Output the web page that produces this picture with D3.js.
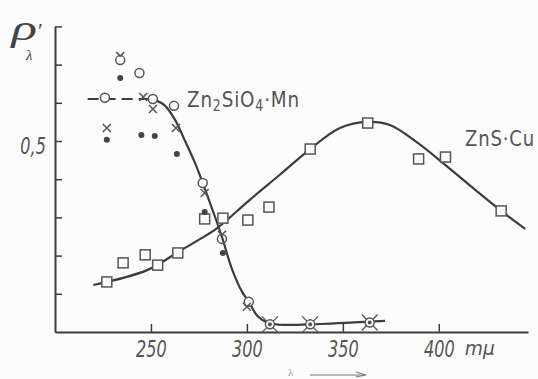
<!DOCTYPE html>
<html>
<head>
<meta charset="utf-8">
<script src="https://cdn.jsdelivr.net/npm/d3@7"></script>
<style>
  body { margin: 0; background: #fcfcfc; }
  svg { display: block; }
  .tick text { font-family: "DejaVu Sans", sans-serif; font-style: italic; fill: #555; }
</style>
</head>
<body>
<script>
"use strict";

// wavelength (mμ) and reflectance readings
var circleLam = [226, 244, 251, 262, 277, 301];
var circleVal = [0.613, 0.678, 0.61, 0.592, 0.39, 0.079];

var crossLam = [227, 246, 251, 263, 278, 300];
var crossVal = [0.534, 0.615, 0.584, 0.534, 0.364, 0.066];

var dotLam = [227, 234, 245, 252, 263.5, 278, 287.5];
var dotVal = [0.503, 0.665, 0.516, 0.513, 0.466, 0.314, 0.207];

// circle with a cross sitting on top of it
var capLam = [234, 287];
var capVal = [0.717, 0.249];

// circle with a cross through it
var starLam = [312, 333, 364];
var starVal = [0.02, 0.02, 0.025];

var squareLam = [227, 235.5, 247, 253.5, 264, 278, 287.5, 300.5, 311.5, 333, 363, 389.5, 403.5, 432.5];
var squareVal = [0.131, 0.181, 0.202, 0.175, 0.207, 0.296, 0.298, 0.293, 0.327, 0.479, 0.547, 0.453, 0.458, 0.317];

// fitted curves
var silDashLam = [217, 252];
var silDashVal = [0.61, 0.61];
var silLam = [252, 257, 262.5, 267.5, 273, 277, 282.5, 287, 292, 297.5, 301, 305.5, 311, 317, 338, 372];
var silVal = [0.607, 0.594, 0.556, 0.503, 0.442, 0.39, 0.314, 0.249, 0.168, 0.105, 0.079, 0.042, 0.024, 0.019, 0.021, 0.029];

var znsLam = [220, 248, 265, 275.5, 284.5, 301.5, 317, 333, 348.5, 363, 374.5, 388.5, 403.5, 419, 432.5, 445];
var znsVal = [0.123, 0.162, 0.212, 0.243, 0.272, 0.346, 0.411, 0.479, 0.534, 0.55, 0.542, 0.497, 0.437, 0.372, 0.317, 0.27];

var xTicks = [250, 300, 350, 400];
var yTicks = [0.1, 0.2, 0.3, 0.4, 0.5, 0.6, 0.7, 0.8];

var width = 538, height = 379;
var ink = "#3c3c3c", grey = "#555";

var svg = d3.select("body").append("svg")
    .attr("width", width)
    .attr("height", height);

var x = d3.scaleLinear().domain([200, 446.5]).range([55, 528]);
var y = d3.scaleLinear().domain([0, 0.8]).range([332, 26.4]);

function zip(a, b) { return a.map(function (d, i) { return [d, b[i]]; }); }

// squeeze a text horizontally so it spans w pixels starting at its left edge
function fit(sel, w) {
    var b = sel.node().getBBox();
    var s = w / b.width;
    sel.attr("transform", "translate(" + b.x + ",0) scale(" + s + ",1) translate(" + (-b.x) + ",0)");
}

// axes
var xAxis = svg.append("g")
    .attr("transform", "translate(0," + y(0) + ")")
    .call(d3.axisBottom(x)
        .tickValues(xTicks)
        .tickSize(-8)
        .tickSizeOuter(0)
        .tickPadding(9)
        .tickFormat(d3.format("d")));

var yAxis = svg.append("g")
    .attr("transform", "translate(" + x(200) + ",0)")
    .call(d3.axisLeft(y)
        .tickValues(yTicks)
        .tickSize(-7)
        .tickSizeOuter(0)
        .tickPadding(13)
        .tickFormat(function (d) { return d === 0.5 ? "0,5" : ""; }));

[xAxis, yAxis].forEach(function (g) {
    g.select(".domain").attr("stroke", ink).attr("stroke-width", 2);
    g.selectAll(".tick line").attr("stroke", ink).attr("stroke-width", 1.5);
    g.selectAll(".tick text").attr("font-size", 23).attr("transform", "scale(0.7,1)");
});
yAxis.selectAll(".tick text").attr("dy", "0.55em");

var mmu = svg.append("text")
    .attr("x", x(400) + 26)
    .attr("y", y(0) + 23)
    .attr("font-family", "DejaVu Sans, sans-serif")
    .attr("font-style", "italic")
    .attr("font-size", 19)
    .attr("fill", grey)
    .text("mμ");
fit(mmu, 30);

// ρ'λ label
var rho = svg.append("text")
    .attr("x", 11)
    .attr("y", 40)
    .attr("font-family", "Liberation Serif, serif")
    .attr("font-style", "italic")
    .attr("font-size", 36)
    .attr("fill", "#444")
    .text("ρ");
fit(rho, 27);
svg.append("text")
    .attr("x", 38).attr("y", 38)
    .attr("font-family", "Liberation Serif, serif")
    .attr("font-size", 22)
    .attr("fill", "#444")
    .text("′");
svg.append("text")
    .attr("x", 26).attr("y", 60)
    .attr("font-family", "Liberation Serif, serif")
    .attr("font-style", "italic")
    .attr("font-size", 15)
    .attr("fill", "#444")
    .text("λ");

// λ arrow under the axis
svg.append("text")
    .attr("x", 288)
    .attr("y", 376)
    .attr("font-family", "Liberation Serif, serif")
    .attr("font-size", 11)
    .attr("fill", "#999")
    .text("λ");
svg.append("line")
    .attr("x1", 310).attr("x2", 364)
    .attr("y1", 375).attr("y2", 375)
    .attr("stroke", "#777").attr("stroke-width", 1.2);
svg.append("path")
    .attr("d", "M356,372 L366,375 L356,377")
    .attr("fill", "none").attr("stroke", "#777").attr("stroke-width", 1.2);

// curves
var curve = d3.line()
    .x(function (d) { return x(d[0]); })
    .y(function (d) { return y(d[1]); })
    .curve(d3.curveCatmullRom.alpha(0.5));

svg.append("path")
    .datum(zip(silDashLam, silDashVal))
    .attr("d", curve)
    .attr("fill", "none")
    .attr("stroke", ink)
    .attr("stroke-width", 2)
    .attr("stroke-dasharray", "11,6");

svg.append("path")
    .datum(zip(silLam, silVal))
    .attr("d", curve)
    .attr("fill", "none")
    .attr("stroke", ink)
    .attr("stroke-width", 2.2);

svg.append("path")
    .datum(zip(znsLam, znsVal))
    .attr("d", curve)
    .attr("fill", "none")
    .attr("stroke", ink)
    .attr("stroke-width", 2.2);

// markers
var marks = svg.append("g")
    .attr("fill", "none")
    .attr("stroke", grey)
    .attr("stroke-width", 1.5);

function crossPath(cx, cy, r) {
    return "M" + (cx - r) + "," + (cy - r) + "L" + (cx + r) + "," + (cy + r) +
        "M" + (cx + r) + "," + (cy - r) + "L" + (cx - r) + "," + (cy + r);
}

marks.selectAll(".sq")
    .data(zip(squareLam, squareVal))
    .enter().append("rect")
    .attr("x", function (d) { return x(d[0]) - 5; })
    .attr("y", function (d) { return y(d[1]) - 5; })
    .attr("width", 10)
    .attr("height", 10)
    .attr("fill", "#fcfcfc");

marks.selectAll(".ci")
    .data(zip(circleLam, circleVal))
    .enter().append("circle")
    .attr("cx", function (d) { return x(d[0]); })
    .attr("cy", function (d) { return y(d[1]); })
    .attr("r", 4.5)
    .attr("fill", "#fcfcfc");

marks.selectAll(".cr")
    .data(zip(crossLam, crossVal))
    .enter().append("path")
    .attr("d", function (d) { return crossPath(x(d[0]), y(d[1]), 4); });

marks.selectAll(".cap")
    .data(zip(capLam, capVal))
    .enter().append("g")
    .each(function (d) {
        var g = d3.select(this), cx = x(d[0]), cy = y(d[1]);
        g.append("circle").attr("cx", cx).attr("cy", cy + 2).attr("r", 4.5);
        g.append("path").attr("d", "M" + (cx - 4) + "," + (cy - 6) + "L" + cx + "," + (cy - 2) + "L" + (cx + 4) + "," + (cy - 6));
    });

marks.selectAll(".star")
    .data(zip(starLam, starVal))
    .enter().append("g")
    .each(function (d) {
        var g = d3.select(this), cx = x(d[0]), cy = y(d[1]);
        g.append("path").attr("d", crossPath(cx, cy, 8)).attr("stroke-width", 1.3);
        g.append("circle").attr("cx", cx).attr("cy", cy).attr("r", 4.5).attr("fill", "#fcfcfc");
        g.append("circle").attr("cx", cx).attr("cy", cy).attr("r", 1.3).attr("fill", grey);
    });

svg.append("g").selectAll("circle")
    .data(zip(dotLam, dotVal))
    .enter().append("circle")
    .attr("cx", function (d) { return x(d[0]); })
    .attr("cy", function (d) { return y(d[1]); })
    .attr("r", 3)
    .attr("fill", "#444");

// series labels
var lab1 = svg.append("text")
    .attr("x", 187)
    .attr("y", 107)
    .attr("font-family", "DejaVu Sans, sans-serif")
    .attr("font-size", 22)
    .attr("letter-spacing", 1)
    .attr("fill", grey);
lab1.append("tspan").text("Zn");
lab1.append("tspan").attr("font-size", 15).attr("dy", 4).text("2");
lab1.append("tspan").attr("dy", -4).text("SiO");
lab1.append("tspan").attr("font-size", 15).attr("dy", 4).text("4");
lab1.append("tspan").attr("dy", -4).text("·Mn");
fit(lab1, 113);

var lab2 = svg.append("text")
    .attr("x", 465)
    .attr("y", 146)
    .attr("font-family", "DejaVu Sans, sans-serif")
    .attr("font-size", 22)
    .attr("letter-spacing", 1)
    .attr("fill", grey)
    .text("ZnS·Cu");
fit(lab2, 70);
</script>
</body>
</html>
